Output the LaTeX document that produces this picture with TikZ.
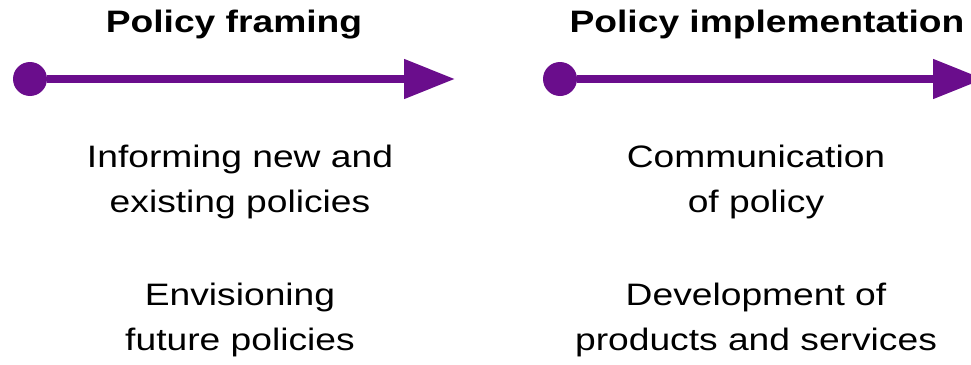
\documentclass[tikz,border=0pt]{standalone}
\usepackage{fontspec}
\setmainfont{Liberation Sans}[FakeStretch=1.2]
\usetikzlibrary{positioning,arrows.meta}
\definecolor{stagepurple}{RGB}{106,13,140}

\begin{document}
\begin{tikzpicture}[x=1pt, y=-1pt, node distance=530pt,
        dot/.style = {circle, fill=stagepurple, minimum size=34pt, inner sep=0pt},
        stage/.style = {line width=8pt, draw=stagepurple, -{Triangle[length=51pt,width=38pt]}},
        title/.style = {font=\fontsize{31}{37}\selectfont\bfseries, anchor=base},
        item/.style = {font=\fontsize{31}{45}\selectfont, align=center, anchor=base}]
            \useasboundingbox (0,0) rectangle (971,364);
            \node[title] (t1) at (234,32) {Policy framing};
            \node[title] (t2) at (767,32) {Policy implementation};
            \node[dot] (d1) at (30,79) {};
            \node[dot] (d2) [right of=d1] {};
            \coordinate (e1) at (455,79);
            \coordinate (e2) at (984,79);
            \draw[stage] (d1) -- (e1);
            \draw[stage] (d2) -- (e2);
            % base of a two-line item is its last line
            \node[item] (f1) at (240,212) {Informing new and\\existing policies};
            \node[item] (f2) at (240,350) {Envisioning\\future policies};
            \node[item] (i1) at (756,212) {Communication\\of policy};
            \node[item] (i2) at (756,350) {Development of\\products and services};
        \end{tikzpicture}
\end{document}
